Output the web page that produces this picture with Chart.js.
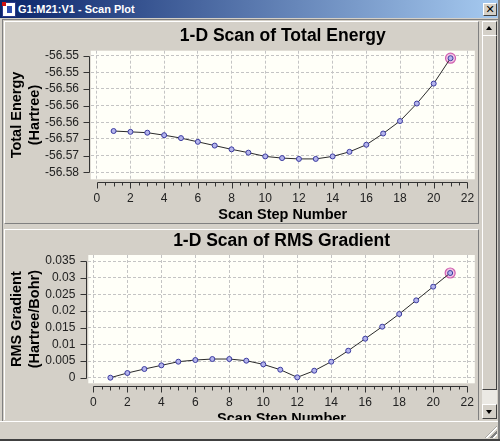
<!DOCTYPE html>
<html>
<head>
<meta charset="utf-8">
<title>G1:M21:V1 - Scan Plot</title>
<script src="https://cdn.jsdelivr.net/npm/chart.js@4.4.1/dist/chart.umd.min.js"></script>
<style>
  html, body { margin: 0; padding: 0; }
  body {
    width: 500px; height: 441px; position: relative; overflow: hidden;
    background: #d4d0c8; font-family: "Liberation Sans", Arial, sans-serif;
  }
  .abs { position: absolute; }
  #titlebar { left: 0; top: 0; width: 498px; height: 18px; background: linear-gradient(to right, #0a246a, #a6caf0); }
  #icon { left: 2px; top: 2px; width: 12px; height: 13px; background: #fff; border: 1px solid #2a3a8a; }
  #icon i { position: absolute; left: -1px; top: -1px; width: 4px; height: 4px; background: #d01010; }
  #icon b { position: absolute; left: 4px; top: 3px; width: 5px; height: 7px; background: #3050b0; }
  #caption { left: 18px; top: 2px; color: #fff; font-weight: bold; font-size: 11px; line-height: 14px; white-space: nowrap; }
  #closebtn {
    left: 483px; top: 3px; width: 12px; height: 11px; background: #d4d0c8;
    border: 1px solid; border-color: #fff #404040 #404040 #fff;
    font: bold 11px/11px "DejaVu Sans", sans-serif; text-align: center; color: #000;
  }
  #frameR { left: 498px; top: 0; width: 2px; height: 441px; background: #808080; border-right: 0; }
  #frameB { left: 0; top: 439px; width: 500px; height: 2px; background: #404040; }
  #pane { left: 2px; top: 19px; width: 495px; height: 401px; border-left: 1px solid #808080; border-top: 1px solid #808080; }
  #clip { left: 3px; top: 20px; width: 478px; height: 400px; overflow: hidden; }
  .panel { position: absolute; left: 1px; width: 473px; background: #d4d0c8; border: 1px solid; border-color: #fff #808080 #808080 #fff; }
  canvas { position: absolute; left: 0; }
  .sbtn {
    position: absolute; left: 482px; width: 13px; height: 13px; background: #d4d0c8;
    border: 1px solid; border-color: #fff #404040 #404040 #fff;
  }
  .sbtn i { position: absolute; left: 3px; width: 0; height: 0; border-left: 3.5px solid transparent; border-right: 3.5px solid transparent; }
  #up i { top: 4px; border-bottom: 4px solid #000; }
  #down i { top: 5px; border-top: 4px solid #000; }
  #thumb {
    left: 482px; top: 35px; width: 13px; height: 353px; background: #d4d0c8;
    border: 1px solid; border-color: #fff #404040 #404040 #fff;
  }
  #track { left: 482px; top: 390px; width: 15px; height: 14px; background: #ebe9e4; }
  #status { left: 0; top: 421px; width: 498px; height: 18px; border-top: 1px solid #fff; }
  #grip {
    left: 485px; top: 426px; width: 12px; height: 12px;
    background: repeating-linear-gradient(-45deg, transparent 0 2px, #ffffff 2px 3px, #808080 3px 5px);
    clip-path: polygon(100% 0, 100% 100%, 0 100%);
  }
</style>
</head>
<body>
<div id="titlebar" class="abs">
  <div id="icon" class="abs"><i></i><b></b></div>
  <div id="caption" class="abs">G1:M21:V1 - Scan Plot</div>
  <div id="closebtn" class="abs">✕</div>
</div>
<div id="pane" class="abs"></div>
<div id="clip" class="abs">
  <div class="panel" style="top:1px;height:201px;"></div>
  <div class="panel" style="top:209px;height:230px;"></div>
  <canvas id="energychart" width="478" height="206" style="top:0;width:478px;height:206px;"></canvas>
  <canvas id="gradientchart" width="478" height="201" style="top:209px;width:478px;height:201px;"></canvas>
</div>
<div id="track" class="abs"></div>
<div id="up" class="sbtn" style="top:21px;"><i></i></div>
<div id="thumb" class="abs"></div>
<div id="down" class="sbtn" style="top:404px;"><i></i></div>
<div id="status" class="abs"></div>
<div id="grip" class="abs"></div>
<div id="frameR" class="abs"></div>
<div id="frameB" class="abs"></div>

<script>
// スキャンのデータ (値は画像から読み取り)
const scanSteps = [1, 2, 3, 4, 5, 6, 7, 8, 9, 10, 11, 12, 13, 14, 15, 16, 17, 18, 19, 20, 21];
const totalEnergy = [
  -56.5661, -56.5663, -56.5665, -56.5671, -56.5678, -56.5687, -56.5696,
  -56.5705, -56.5713, -56.5722, -56.5726, -56.5728, -56.5728, -56.5722,
  -56.5711, -56.5694, -56.5667, -56.5637, -56.5595, -56.5547, -56.5486,
];
const rmsGradient = [
  0.0000, 0.0014, 0.0026, 0.0037, 0.0048, 0.0053, 0.0056,
  0.0056, 0.0051, 0.0040, 0.0024, 0.0001, 0.0021, 0.0048,
  0.0081, 0.0117, 0.0153, 0.0191, 0.0232, 0.0273, 0.0314,
];

// 目盛り
const stepTicks = [0, 2, 4, 6, 8, 10, 12, 14, 16, 18, 20, 22];
const energyTicks = [-56.548, -56.552, -56.556, -56.560, -56.564, -56.568, -56.572, -56.576];
const energyTickLabels = ["-56.55", "-56.55", "-56.56", "-56.56", "-56.56", "-56.57", "-56.57", "-56.58"];
const gradientTicks = [0.035, 0.03, 0.025, 0.02, 0.015, 0.01, 0.005, 0];
const gradientTickLabels = ["0.035", "0.03", "0.025", "0.02", "0.015", "0.01", "0.005", "0"];

Chart.defaults.font.family = "'Liberation Sans', Arial, sans-serif";

// プロット背景と軸線 (軸はプロット領域から少し離して描く)
const scanAxes = {
  id: "scanAxes",
  beforeDraw(chart) {
    const { ctx, chartArea: a } = chart;
    ctx.save();
    ctx.fillStyle = "#fffff8";
    ctx.fillRect(a.left, a.top, a.right - a.left, a.bottom - a.top);
    ctx.restore();
  },
  afterDraw(chart) {
    const { ctx, chartArea: a, scales } = chart;
    const x = scales.x, y = scales.y;
    ctx.save();
    ctx.strokeStyle = "#333";
    ctx.lineWidth = 1;
    ctx.beginPath();

    // 縦軸
    const ax = Math.round(a.left - 2) + 0.5;
    const ys = y.ticks.map((t) => Math.round(y.getPixelForValue(t.value)) + 0.5);
    ctx.moveTo(ax, Math.min(...ys));
    ctx.lineTo(ax, Math.max(...ys));
    ys.forEach((py) => {
      ctx.moveTo(ax - 6, py);
      ctx.lineTo(ax, py);
    });

    // 横軸 (0.5 刻みの小目盛り付き)
    const ay = Math.round(a.bottom + 3) + 0.5;
    const first = stepTicks[0], last = stepTicks[stepTicks.length - 1];
    ctx.moveTo(Math.round(x.getPixelForValue(first)) + 0.5, ay);
    ctx.lineTo(Math.round(x.getPixelForValue(last)) + 0.5, ay);
    for (let v = first; v <= last; v += 0.5) {
      const px = Math.round(x.getPixelForValue(v)) + 0.5;
      const len = v % 2 === 0 ? 6 : v % 1 === 0 ? 4 : 3;
      ctx.moveTo(px, ay);
      ctx.lineTo(px, ay + len);
    }
    ctx.stroke();
    ctx.restore();
  },
};

function setupScanChart(canvasId, opts) {
  const lastIdx = scanSteps.length - 1;
  const config = {
    type: "line",
    data: {
      datasets: [
        {
          label: opts.title,
          data: scanSteps.map((s, i) => ({ x: s, y: opts.values[i] })),
          borderColor: "#2a2a2a",
          borderWidth: 1,
          tension: 0,
          pointRadius: 2.5,
          pointBorderWidth: 1,
          pointBorderColor: "#3c3ca0",
          pointBackgroundColor: "#b4b4ec",
          order: 0,
        },
        {
          // 選択中の点
          label: "selected",
          data: [{ x: scanSteps[lastIdx], y: opts.values[lastIdx] }],
          showLine: false,
          pointRadius: 5,
          pointBorderWidth: 1.2,
          pointBorderColor: "#d060b0",
          pointBackgroundColor: "#f4c4e4",
          order: 1,
        },
      ],
    },
    options: {
      responsive: false,
      animation: false,
      layout: { padding: { left: 0, top: 0, right: 4.3, bottom: 0 } },
      scales: {
        x: {
          type: "linear",
          min: opts.xMin,
          max: opts.xMax,
          afterBuildTicks: (s) => { s.ticks = stepTicks.map((v) => ({ value: v })); },
          afterFit: (s) => { s.height = opts.xHeight; s.paddingLeft = 0; s.paddingRight = 0; },
          ticks: { autoSkip: false, maxRotation: 0, padding: 12.5, color: "#222", font: { size: 12 } },
          grid: { color: "#c4c4c4", drawTicks: false },
          border: { display: false, dash: [3, 2] },
          title: {
            display: true,
            text: "Scan Step Number",
            color: "#000",
            font: { size: 14.5, weight: "bold" },
            padding: { top: 0, bottom: 2 },
          },
        },
        y: {
          min: opts.yMin,
          max: opts.yMax,
          afterBuildTicks: (s) => { s.ticks = opts.ticks.map((v) => ({ value: v })); },
          afterFit: (s) => { s.width = opts.yWidth; s.paddingTop = 0; s.paddingBottom = 0; },
          ticks: {
            padding: opts.yPad,
            color: "#222",
            font: { size: 12 },
            callback: (v, i) => opts.tickLabels[i],
          },
          grid: { color: "#c4c4c4", drawTicks: false },
          border: { display: false, dash: [3, 2] },
          title: {
            display: true,
            text: opts.yTitle,
            color: "#000",
            font: { size: 14.5, weight: "bold", lineHeight: 1.26 },
            padding: { top: 4.5, bottom: 0 },
          },
        },
      },
      plugins: {
        legend: { display: false },
        tooltip: { enabled: false },
        title: {
          display: true,
          text: opts.title,
          fullSize: false,
          color: "#000",
          font: { size: 17.5, weight: "bold" },
          padding: opts.titlePad,
        },
      },
    },
    plugins: [scanAxes],
  };

  const el = document.getElementById(canvasId);
  if (el) {
    new Chart(el.getContext("2d"), config);
  }
}

setupScanChart("energychart", {
  title: "1-D Scan of Total Energy",
  values: totalEnergy,
  ticks: energyTicks,
  tickLabels: energyTickLabels,
  yTitle: ["Total Energy", "(Hartree)"],
  xMin: -0.36, xMax: 22.44,
  yMin: -56.5777, yMax: -56.5468,
  yWidth: 87.7, yPad: 11.7, xHeight: 46.7,
  titlePad: { top: 5.5, bottom: 4.2 },
});

setupScanChart("gradientchart", {
  title: "1-D Scan of RMS Gradient",
  values: rmsGradient,
  ticks: gradientTicks,
  tickLabels: gradientTickLabels,
  yTitle: ["RMS Gradient", "(Hartree/Bohr)"],
  xMin: -0.3, xMax: 22.45,
  yMin: -0.00168, yMax: 0.0368,
  yWidth: 85.3, yPad: 13, xHeight: 46.7,
  titlePad: { top: 1.5, bottom: 3.5 },
});
</script>
</body>
</html>
